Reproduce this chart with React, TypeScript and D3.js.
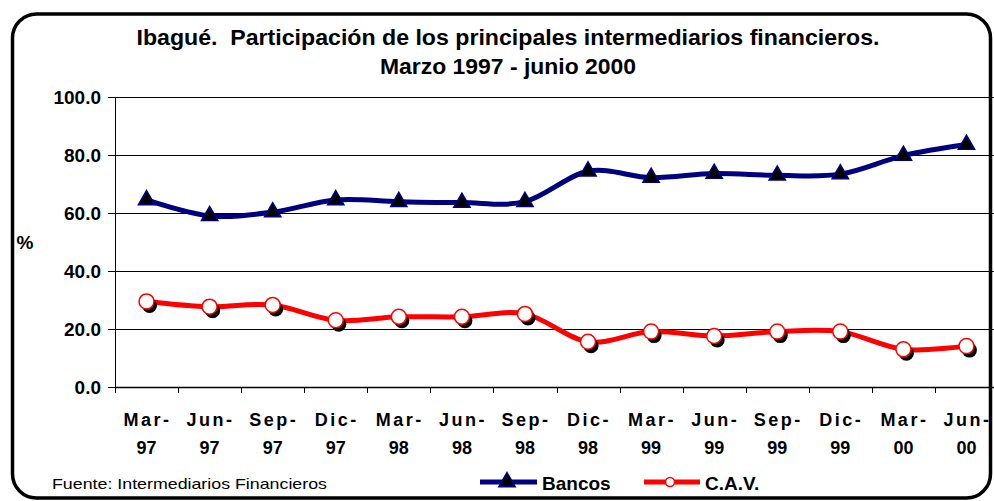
import React from 'react';
import * as d3 from 'd3';

// datos trimestrales (%)
const months = ['Mar-', 'Jun-', 'Sep-', 'Dic-', 'Mar-', 'Jun-', 'Sep-', 'Dic-', 'Mar-', 'Jun-', 'Sep-', 'Dic-', 'Mar-', 'Jun-'];
const years = ['97', '97', '97', '97', '98', '98', '98', '98', '99', '99', '99', '99', '00', '00'];
const bancos = [64.5, 59.0, 60.3, 64.5, 63.9, 63.6, 63.9, 74.4, 72.2, 73.6, 73.0, 73.4, 79.8, 83.6];
const cav = [29.5, 27.7, 28.3, 23.0, 24.2, 24.2, 25.2, 15.6, 19.1, 17.6, 19.1, 19.1, 13.0, 14.1];
const yTicks = [0, 20, 40, 60, 80, 100];

const W = 994;
const H = 501;
const FONT = '"Liberation Sans", Arial, sans-serif';

const App = () => {
  const idx = months.map((_, i) => i);

  // escalas
  const x = d3.scaleBand<number>().domain(idx).range([115, 998]).padding(0);
  const cx = (i: number) => (x(i) as number) + x.bandwidth() / 2;
  const y = d3.scaleLinear().domain([0, 100]).range([387, 97]);

  const line = d3
    .line<number>()
    .x((_, i) => cx(i))
    .y(d => y(d))
    .curve(d3.curveCardinal.tension(0));

  const tri = d3.symbol().type(d3.symbolTriangle).size(115)();
  const boundaries = [...idx.map(i => x(i) as number), 998];

  return (
    <svg width={W} height={H} style={{ position: 'absolute', left: 0, top: 0 }} fontFamily={FONT}>
      <rect x={0} y={0} width={W} height={H} fill="#fff" />
      {/* marco */}
      <rect x={12.5} y={14} width={978} height={484} rx={24} fill="none" stroke="#000" strokeWidth={3.5} />

      {/* titulo */}
      <text x={508} y={45} textAnchor="middle" fontWeight="bold" fontSize={22} textLength={743} lengthAdjust="spacingAndGlyphs" xmlSpace="preserve">
        {'Ibagué.  Participación de los principales intermediarios financieros.'}
      </text>
      <text x={508} y={74} textAnchor="middle" fontWeight="bold" fontSize={22} textLength={256} lengthAdjust="spacingAndGlyphs">
        Marzo 1997 - junio 2000
      </text>

      {/* rejilla y eje y */}
      {yTicks.map(t => (
        <g key={t}>
          {t > 0 && <line x1={115} x2={998} y1={Math.round(y(t)) + 0.5} y2={Math.round(y(t)) + 0.5} stroke="#000" strokeWidth={1} />}
          <line x1={108} x2={115} y1={Math.round(y(t)) + 0.5} y2={Math.round(y(t)) + 0.5} stroke="#000" />
          <text x={101} y={y(t)} dy="0.36em" textAnchor="end" fontWeight="bold" fontSize={19}>
            {t.toFixed(1)}
          </text>
        </g>
      ))}
      <line x1={115.5} x2={115.5} y1={97} y2={388} stroke="#000" />
      <line x1={115} x2={998} y1={387.5} y2={387.5} stroke="#000" strokeWidth={1.5} />
      {boundaries.map((b, i) => (
        <line key={i} x1={Math.round(b) + 0.5} x2={Math.round(b) + 0.5} y1={387} y2={393} stroke="#000" />
      ))}
      <text x={25} y={242} dy="0.36em" textAnchor="middle" fontWeight="bold" fontSize={19}>%</text>

      {/* etiquetas x */}
      {idx.map(i => (
        <g key={i} fontWeight="bold" fontSize={18} textAnchor="middle">
          <text x={cx(i) + 1} y={420} dy="0.36em" letterSpacing={2.5}>{months[i]}</text>
          <text x={cx(i)} y={448} dy="0.36em">{years[i]}</text>
        </g>
      ))}

      {/* series */}
      <path d={line(bancos) as string} fill="none" stroke="#000080" strokeWidth={5} strokeLinejoin="round" />
      <path d={line(cav) as string} fill="none" stroke="#ff0000" strokeWidth={5} strokeLinejoin="round" />

      {bancos.map((v, i) => (
        <path key={i} d={tri as string} transform={`translate(${cx(i)},${y(v)})`} fill="#000" stroke="#000080" strokeWidth={1.5} />
      ))}
      {cav.map((v, i) => (
        <g key={i}>
          <circle cx={cx(i) + 3} cy={y(v) + 4} r={7.5} fill="#000" />
          <circle cx={cx(i)} cy={y(v)} r={7.5} fill="#fff" stroke="#ff0000" strokeWidth={1.5} />
        </g>
      ))}

      {/* fuente */}
      <text x={52} y={484} dy="0.36em" fontSize={14.5} textLength={275} lengthAdjust="spacingAndGlyphs">
        Fuente: Intermediarios Financieros
      </text>

      {/* leyenda */}
      <line x1={480} x2={537} y1={482} y2={482} stroke="#000080" strokeWidth={5} />
      <path d={tri as string} transform="translate(507,482)" fill="#000" stroke="#000080" strokeWidth={1.5} />
      <text x={542} y={483} dy="0.36em" fontWeight="bold" fontSize={19}>Bancos</text>
      <line x1={644} x2={700} y1={482} y2={482} stroke="#ff0000" strokeWidth={5} />
      <circle cx={670} cy={482} r={4.5} fill="#fff" stroke="#ff0000" strokeWidth={1.5} />
      <text x={705} y={483} dy="0.36em" fontWeight="bold" fontSize={19}>C.A.V.</text>
    </svg>
  );
};

export default App;
